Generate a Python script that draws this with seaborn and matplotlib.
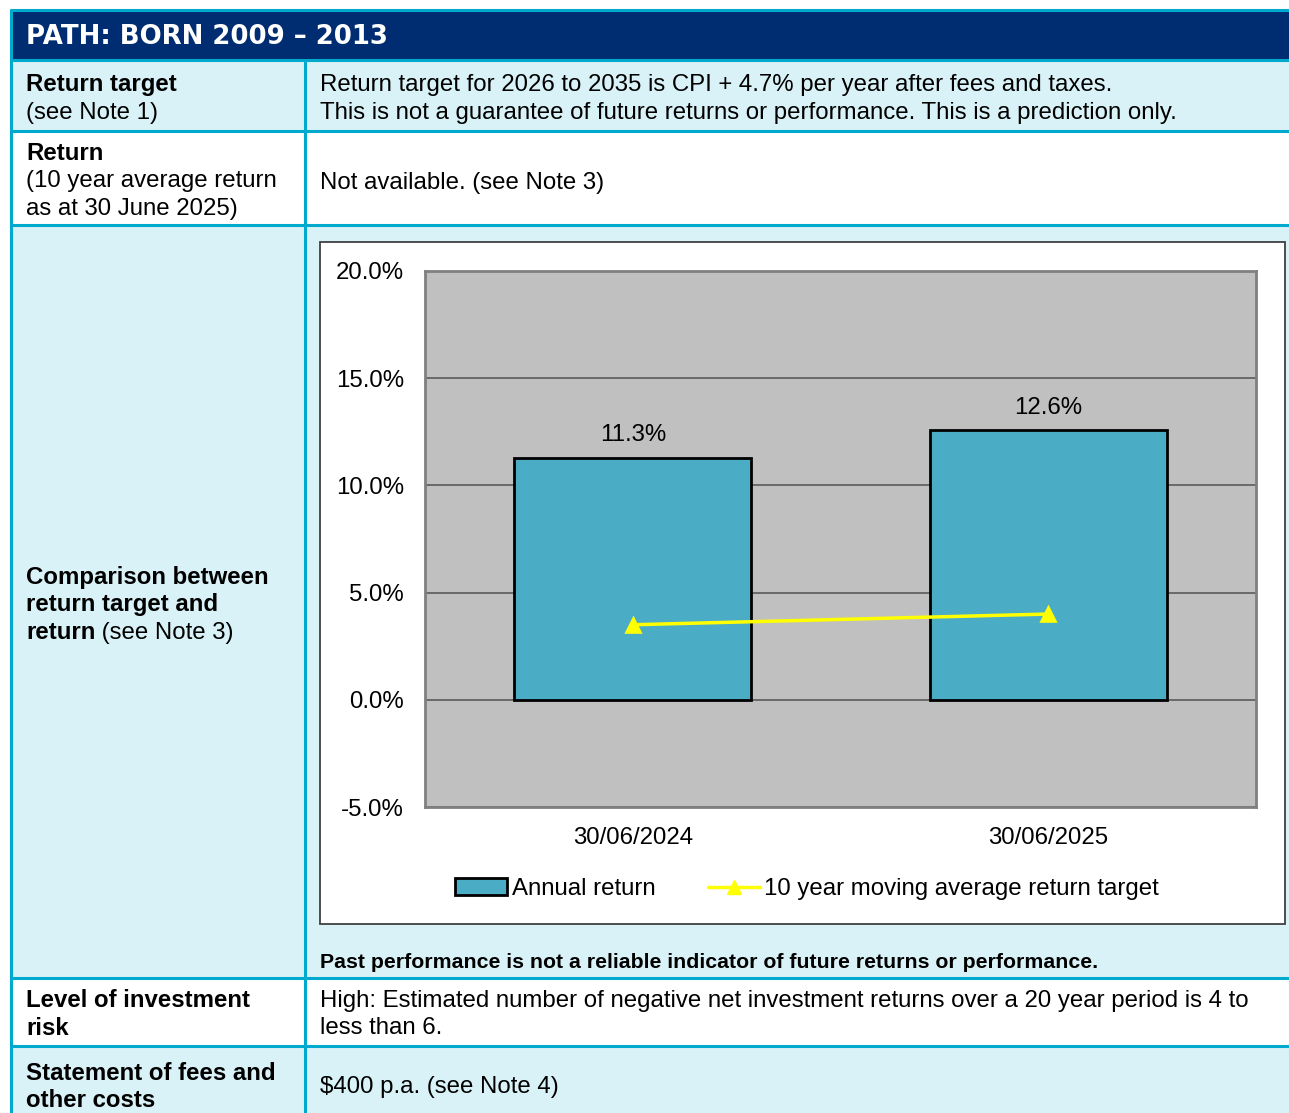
import matplotlib
matplotlib.use('Agg')
import matplotlib.pyplot as plt
import matplotlib.ticker as mticker
from matplotlib.patches import Rectangle, Patch
from matplotlib.lines import Line2D
import seaborn as sns

# --- data ---
dates = ['30/06/2024', '30/06/2025']
annual_return = [11.3, 12.6]
return_target = [3.5, 4.0]
y_ticks = [-5, 0, 5, 10, 15, 20]

title = 'PATH: BORN 2009 \u2013 2013'

sns.set_style('white')
plt.rcParams['font.family'] = ['Liberation Sans', 'DejaVu Sans']
plt.rcParams['axes.unicode_minus'] = False
for k in ['text.color', 'xtick.color', 'ytick.color', 'axes.labelcolor']:
    plt.rcParams[k] = 'black'

NAVY = '#002D72'
CYAN = '#00A9CE'
LIGHT = '#D9F2F7'
BAR = '#4BACC6'

W, H = 1289, 1113
fig = plt.figure(figsize=(W / 100, H / 100), dpi=100)

# background axes in pixel coordinates for the table layout
bg = fig.add_axes([0, 0, 1, 1])
bg.set_xlim(0, W)
bg.set_ylim(H, 0)
bg.axis('off')

# row fills
rows = [(60, 131, LIGHT), (131, 225, 'white'), (225, 978, LIGHT),
        (978, 1046, 'white'), (1046, 1113, LIGHT)]
for top, bot, col in rows:
    bg.add_patch(Rectangle((11, top), W - 11, bot - top, facecolor=col, edgecolor='none'))
bg.add_patch(Rectangle((11, 11), W - 11, 49, facecolor=NAVY, edgecolor='none'))

# borders
for y in [10, 60, 131, 225, 978, 1046]:
    bg.plot([10, W], [y, y], color=CYAN, lw=2.2, solid_capstyle='butt')
bg.plot([11, 11], [10, H], color=CYAN, lw=2.2)
bg.plot([305, 305], [60, H], color=CYAN, lw=2.2)

# chart box
bg.add_patch(Rectangle((320, 242), 965, 682, facecolor='white', edgecolor='#404040', lw=1.3))

fs = 17.3
bg.text(26, 37, title, color='white', fontsize=18.7, fontweight='bold', va='center',
        family='DejaVu Sans')

def lines(x, ys, texts, bold=False, size=fs):
    for y, t in zip(ys, texts):
        bg.text(x, y + 2.5, t, fontsize=size, va='center',
                fontweight='bold' if bold else 'normal', color='black')

lines(26, [82], ['Return target'], bold=True)
lines(26, [110], ['(see Note 1)'])
lines(320, [82, 111], ['Return target for 2026 to 2035 is CPI + 4.7% per year after fees and taxes.',
                       'This is not a guarantee of future returns or performance. This is a prediction only.'])

lines(26, [151], ['Return'], bold=True)
lines(26, [179, 206], ['(10 year average return', 'as at 30 June 2025)'])
lines(320, [180], ['Not available. (see Note 3)'])

lines(26, [575, 602], ['Comparison between', 'return target and'], bold=True)
t = bg.text(26, 632.5, 'return', fontsize=fs, va='center', fontweight='bold')
fig.canvas.draw()
bb = t.get_window_extent(renderer=fig.canvas.get_renderer())
bg.text(26 + bb.width, 632.5, ' (see Note 3)', fontsize=fs, va='center')

lines(320, [960], ['Past performance is not a reliable indicator of future returns or performance.'],
      bold=True, size=15.3)

lines(26, [998, 1026], ['Level of investment', 'risk'], bold=True)
lines(320, [998, 1026], ['High: Estimated number of negative net investment returns over a 20 year period is 4 to',
                         'less than 6.'])

lines(26, [1071, 1098], ['Statement of fees and', 'other costs'], bold=True)
lines(320, [1084], ['$400 p.a. (see Note 4)'])

# --- the chart ---
ax = fig.add_axes([425 / W, 1 - 807 / H, 831 / W, 536 / H])
ax.set_facecolor('#C0C0C0')
sns.barplot(x=dates, y=annual_return, color=BAR, saturation=1, width=0.57,
            edgecolor='black', linewidth=2, ax=ax, zorder=3)
sns.pointplot(x=dates, y=return_target, color='#FFFF00', marker='^', markersize=10,
              linewidth=2.5, errorbar=None, ax=ax, zorder=4)
ax.bar_label(ax.containers[0], labels=[f'{v:.1f}%' for v in annual_return],
             padding=8, fontsize=fs)

ax.set_xlim(-0.5, 1.5)
ax.set_ylim(-5, 20)
ax.set_yticks(y_ticks)
ax.yaxis.set_major_formatter(mticker.StrMethodFormatter('{x:.1f}%'))
ax.grid(axis='y', color='#5A5A5A', lw=1.2, zorder=1)
ax.set_axisbelow(True)
ax.tick_params(axis='both', length=0, labelsize=fs)
ax.tick_params(axis='y', pad=15)
ax.tick_params(axis='x', pad=14.5)
ax.set_xlabel('')
ax.set_ylabel('')
for s in ax.spines.values():
    s.set_visible(True)
    s.set_color('#808080')
    s.set_linewidth(2)

handles = [Patch(facecolor=BAR, edgecolor='black', lw=2),
           Line2D([0], [0], color='#FFFF00', lw=2.5, marker='^', markersize=10)]
fig.legend(handles, ['Annual return', '10 year moving average return target'],
           loc='center', bbox_to_anchor=(807 / W, 1 - 889 / H), ncol=2, frameon=False,
           fontsize=fs, handlelength=2.17, handletextpad=0.2, columnspacing=2.17)

fig.savefig('out.png', dpi=100)
